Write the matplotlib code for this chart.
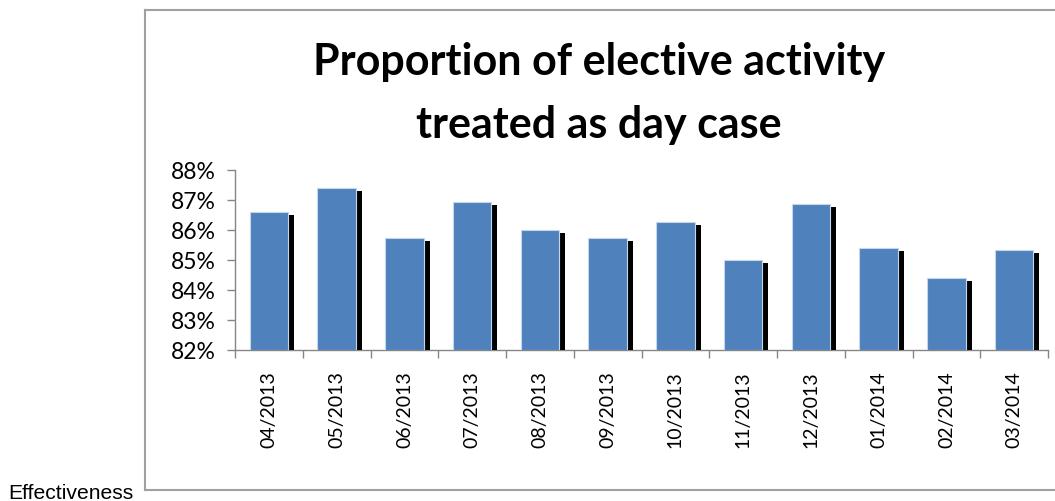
import matplotlib
matplotlib.use("Agg")
import matplotlib.pyplot as plt
import matplotlib.patheffects as pe
from matplotlib.lines import Line2D
from matplotlib.ticker import FixedLocator, PercentFormatter
import numpy as np

months = ["04/2013", "05/2013", "06/2013", "07/2013", "08/2013", "09/2013",
          "10/2013", "11/2013", "12/2013", "01/2014", "02/2014", "03/2014"]
day_case_pct = [86.58, 87.38, 85.71, 86.91, 85.98, 85.71,
                86.25, 84.98, 86.85, 85.38, 84.38, 85.31]
y_ticks = [82, 83, 84, 85, 86, 87, 88]

title = "Proportion of elective activity\ntreated as day case"
section = "Effectiveness"

plt.rcParams["font.family"] = ["Lato", "DejaVu Sans"]

W, H, DPI = 1055, 502, 100
fig = plt.figure(figsize=(W / DPI, H / DPI), dpi=DPI)
fig.patch.set_facecolor("white")

# plot area in pixel terms
left, right, top, bottom = 235, 1048, 170.7, 350.7
ax = fig.add_axes([left / W, (H - bottom) / H, (right - left) / W, (bottom - top) / H])

x = np.arange(len(months))
bars = ax.bar(x, [v - y_ticks[0] for v in day_case_pct], bottom=y_ticks[0],
              width=0.57, color="#4F81BD", edgecolor="#C6D6EA", linewidth=0.8,
              zorder=3)
for b in bars:
    b.set_path_effects([pe.SimplePatchShadow(offset=(4.3, -2.1),
                                             shadow_rgbFace="black", alpha=1.0),
                        pe.Normal()])

ax.set_xlim(-0.5, len(months) - 0.5)
ax.set_ylim(y_ticks[0], y_ticks[-1])
ax.set_yticks(y_ticks)
ax.yaxis.set_major_formatter(PercentFormatter(decimals=0))

ax.set_xticks(x)
ax.set_xticklabels(months, rotation=90)
ax.xaxis.set_minor_locator(FixedLocator(np.arange(len(months) + 1) - 0.5))
ax.tick_params(axis="x", which="major", length=0, pad=15, labelsize=14)
ax.tick_params(axis="x", which="minor", length=6, width=1, color="#868686",
               direction="out")
ax.tick_params(axis="y", which="major", length=6, width=1, color="#868686",
               direction="out", pad=8, labelsize=16.5)

for s in ["top", "right"]:
    ax.spines[s].set_visible(False)
for s in ["left", "bottom"]:
    ax.spines[s].set_color("#868686")
    ax.spines[s].set_linewidth(1)

# chart frame: left, top and bottom edges
frame_kw = dict(color="#A0A0A0", linewidth=1.5, transform=fig.transFigure)
fx0, fy0, fy1 = 144.7 / W, 1 - 490.7 / H, 1 - 11 / H
fig.add_artist(Line2D([fx0, 1.0], [fy1, fy1], **frame_kw))
fig.add_artist(Line2D([fx0, 1.0], [fy0, fy0], **frame_kw))
fig.add_artist(Line2D([fx0, fx0], [fy0, fy1], **frame_kw))

# baseline alignment here follows the last line of the title
fig.text(599 / W, 1 - 138 / H, title, ha="center", va="baseline", fontsize=31,
         fontweight="bold", linespacing=1.69, multialignment="center")

fig.text(8 / W, 1 - 499 / H, section, ha="left", va="baseline",
         fontsize=15.2, family="Liberation Sans")

fig.savefig("out.png", dpi=DPI)
